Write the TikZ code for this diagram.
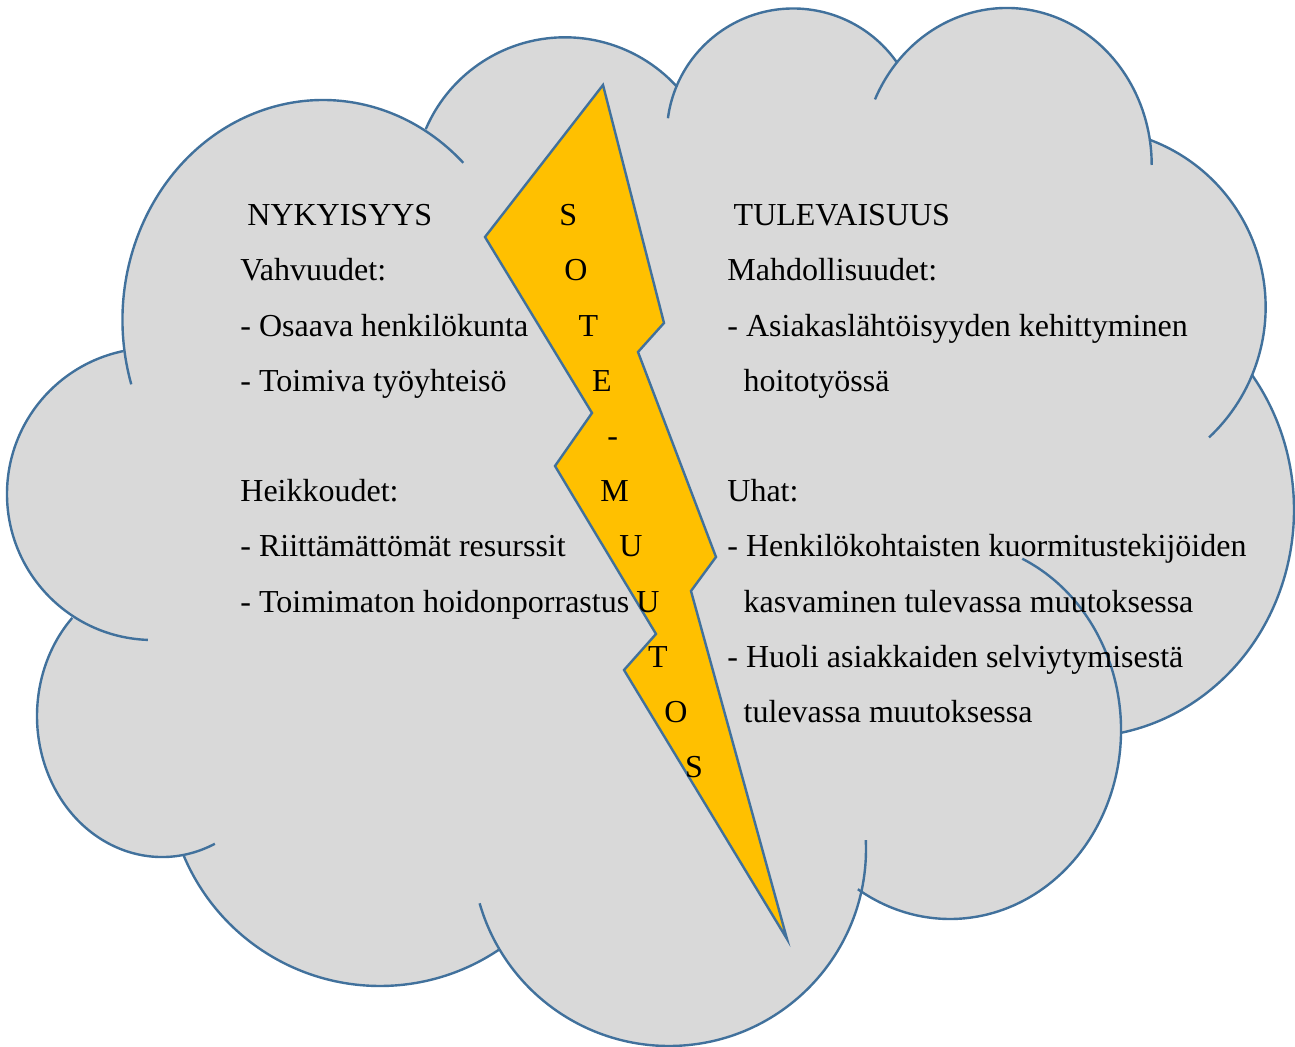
\documentclass[tikz,border=0pt]{standalone}
\usepackage{fontspec}
\setmainfont{Liberation Serif}
\usetikzlibrary{positioning}
\definecolor{cloudgrey}{RGB}{217,217,217}
\definecolor{cloudblue}{RGB}{65,113,156}
\definecolor{boltyellow}{RGB}{255,192,0}

\begin{document}
\begin{tikzpicture}[x=0.5pt,y=0.5pt, cloudline/.style={draw=cloudblue,line width=1.2pt},
  txt/.style={anchor=base west,inner sep=0pt,font=\fontsize{16}{20}\selectfont},
  letter/.style={anchor=base,inner sep=0pt,font=\fontsize{16}{20}\selectfont}]
\useasboundingbox (0,0) rectangle (1295,-1047);
% cloud body
\fill[cloudgrey] ([shift={(188.6:200.5 and 220)}]323,-320) arc[start angle=188.6,end angle=59.4,x radius=200.5,y radius=220]
  -- ([shift={(156.8:151.5 and 151.5)}]565,-188.8) arc[start angle=156.8,end angle=42.3,radius=151.5]
  -- ([shift={(157.8:126.5 and 126.5)}]793.3,-135) arc[start angle=157.8,end angle=34.9,radius=126.5]
  -- ([shift={(139.8:145 and 157)}]1006.7,-165) arc[start angle=139.8,end angle=9.4,x radius=145,y radius=157]
  -- ([shift={(69.6:178.6 and 178.6)}]1087,-307) arc[start angle=69.6,end angle=-22.5,radius=178.6]
  -- ([shift={(36.6:214 and 227)}]1080,-510) arc[start angle=36.6,end angle=-79,x radius=214,y radius=227]
  -- ([shift={(0:171 and 189)}]950,-730) arc[start angle=0,end angle=-122.6,x radius=171,y radius=189]
  -- ([shift={(-11.8:197 and 197)}]669,-849) arc[start angle=-11.8,end angle=-149.7,radius=197]
  -- ([shift={(-55.8:213 and 213)}]380,-773) arc[start angle=-55.8,end angle=-157.1,radius=213]
  -- ([shift={(-81:125 and 141)}]162,-716) arc[start angle=-81,end angle=-224.1,x radius=125,y radius=141]
  -- ([shift={(-122.9:146 and 146)}]153,-494) arc[start angle=-122.9,end angle=-258.3,radius=146]
  -- cycle;
% cloud outline
\draw[cloudline] ([shift={(197:200.5 and 220)}]323,-320) arc[start angle=197,end angle=45.6,x radius=200.5,y radius=220];
\draw[cloudline] ([shift={(156.8:151.5 and 151.5)}]565,-188.8) arc[start angle=156.8,end angle=42.3,radius=151.5];
\draw[cloudline] ([shift={(172.4:126.5 and 126.5)}]793.3,-135) arc[start angle=172.4,end angle=34.9,radius=126.5];
\draw[cloudline] ([shift={(155.3:145 and 157)}]1006.7,-165) arc[start angle=155.3,end angle=0,x radius=145,y radius=157];
\draw[cloudline] ([shift={(69.6:178.6 and 178.6)}]1087,-307) arc[start angle=69.6,end angle=-46.9,radius=178.6];
\draw[cloudline] ([shift={(36.6:214 and 227)}]1080,-510) arc[start angle=36.6,end angle=-79,x radius=214,y radius=227];
\draw[cloudline] ([shift={(65:171 and 189)}]950,-730) arc[start angle=65,end angle=-122.6,x radius=171,y radius=189];
\draw[cloudline] ([shift={(2.6:197 and 197)}]669,-849) arc[start angle=2.6,end angle=-164,radius=197];
\draw[cloudline] ([shift={(-55.8:213 and 213)}]380,-773) arc[start angle=-55.8,end angle=-157.1,radius=213];
\draw[cloudline] ([shift={(-65:125 and 141)}]162,-716) arc[start angle=-65,end angle=-224.1,x radius=125,y radius=141];
\draw[cloudline] ([shift={(-92:146 and 146)}]153,-494) arc[start angle=-92,end angle=-258.3,radius=146];
% lightning bolt
\draw[cloudline,fill=boltyellow] (603,-85) -- (664,-323) -- (638,-352) -- (716,-557) -- (691,-591) -- (787,-939)
  -- (624,-670) -- (656,-634) -- (555,-466) -- (592,-413) -- (485,-237) -- cycle;
\node[letter] (s1) at (568.3,-225.7) {S};
\node[letter] (o1) at (576,-280.9) {O};
\node[letter] (t1) at (588.5,-336.1) {T};
\node[letter] (e1) at (602,-391.3) {E};
\node[letter] (dash) at (612.7,-446.5) {-};
\node[letter] (m1) at (614.5,-501.7) {M};
\node[letter] (u1) at (631,-556.9) {U};
\node[letter] (u2) at (648,-612.1) {U};
\node[letter] (t2) at (658,-667.3) {T};
\node[letter] (o2) at (676,-722.5) {O};
\node[letter] (s2) at (694,-777.7) {S};
% left column
\node[txt] (nyk) at (247,-225.7) {NYKYISYYS};
\node[txt] (vahv) at (240,-280.9) {Vahvuudet:};
\node[txt] (osaava) at (240,-336.1) {- Osaava henkilökunta};
\node[txt] (toimiva) at (240,-391.3) {- Toimiva työyhteisö};
\node[txt] (heikk) at (240,-501.7) {Heikkoudet:};
\node[txt] (riitt) at (240,-556.9) {- Riittämättömät resurssit};
\node[txt] (porras) at (240,-612.1) {- Toimimaton hoidonporrastus};
% right column
\node[txt] (tul) at (733.3,-225.7) {TULEVAISUUS};
\node[txt] (mahd) at (727,-280.9) {Mahdollisuudet:};
\node[txt] (asiakas) at (727,-336.1) {- Asiakaslähtöisyyden kehittyminen};
\node[txt] (hoito) at (743.3,-391.3) {hoitotyössä};
\node[txt] (uhat) at (727,-501.7) {Uhat:};
\node[txt] (henk) at (727,-556.9) {- Henkilökohtaisten kuormitustekijöiden};
\node[txt] (kasv) at (743.3,-612.1) {kasvaminen tulevassa muutoksessa};
\node[txt] (huoli) at (727,-667.3) {- Huoli asiakkaiden selviytymisestä};
\node[txt] (tulev) at (743.3,-722.5) {tulevassa muutoksessa};
\end{tikzpicture}
\end{document}
